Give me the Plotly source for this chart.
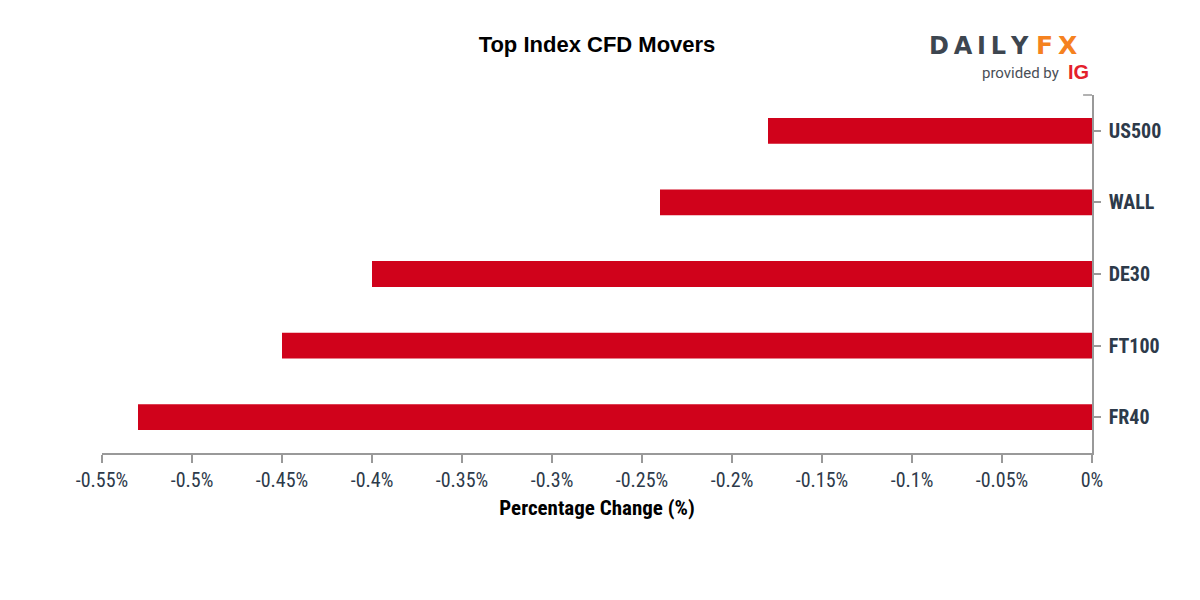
import plotly.graph_objects as go

categories = ["US500", "WALL", "DE30", "FT100", "FR40"]
values = [-0.18, -0.24, -0.40, -0.45, -0.53]
tick_vals = [-0.55, -0.5, -0.45, -0.4, -0.35, -0.3, -0.25, -0.2, -0.15, -0.1, -0.05, 0]
tick_text = ["-0.55%", "-0.5%", "-0.45%", "-0.4%", "-0.35%", "-0.3%", "-0.25%",
             "-0.2%", "-0.15%", "-0.1%", "-0.05%", "0%"]

COND = "Roboto Condensed, Liberation Sans Narrow, DejaVu Sans Condensed, Roboto, sans-serif"

fig = go.Figure(go.Bar(
    x=values, y=categories, orientation="h",
    marker=dict(color="#d0021b", line=dict(width=0)),
    width=0.36,
))

# page body has an 8px margin, so the plot area is placed 8px up/left
L, T, R, B = 94, 87, 116, 155
PH = 600 - T - B  # plot height
PW = 1200 - L - R

def py(page_y):
    # convert a target page y (in reference) to paper y of the plot area
    return (T + 8 + PH - page_y) / PH

def px(page_x):
    return (page_x - 8 - L) / PW

fig.update_layout(
    width=1200, height=600,
    paper_bgcolor="white", plot_bgcolor="white",
    margin=dict(l=L, r=R, t=T, b=B),
    showlegend=False,
    title=dict(text="<b>Top Index CFD Movers</b>", xref="paper", x=0.5, xanchor="center",
               y=1 - 36 / 600, yanchor="middle",
               font=dict(family="Liberation Sans, Arial, sans-serif", size=22, color="#000000")),
    xaxis=dict(range=[-0.55, 0], tickvals=tick_vals, ticktext=tick_text,
               showgrid=False, zeroline=False, showline=True, linecolor="#999999", linewidth=1.5,
               ticks="outside", ticklen=8, tickcolor="#999999", tickwidth=1.5,
               tickfont=dict(family=COND, size=20, color="#2d3a4a"),
               title=dict(text="<b>Percentage Change (%)</b>", standoff=10,
                          font=dict(family=COND, size=21, color="#000000")),
               fixedrange=True),
    yaxis=dict(side="right", categoryorder="array", categoryarray=categories[::-1],
               showgrid=False, zeroline=False, showline=True, linecolor="#999999", linewidth=1.5,
               ticks="outside", ticklen=7, tickcolor="#999999", tickwidth=1.5,
               tickfont=dict(family=COND, size=20, color="#2d3a4a", weight="bold"),
               ticklabelstandoff=4),
    bargap=0.64,
)

# small stub at top of right axis
fig.add_shape(type="line", xref="paper", yref="paper", x0=0.991, x1=1.0, y0=1, y1=1,
              line=dict(color="#999999", width=1.5))

# DailyFX logo
fig.add_annotation(xref="paper", yref="paper", x=px(1031), y=py(46),
                   text="\u2009".join("DAILY"), showarrow=False, xanchor="right", yanchor="middle",
                   font=dict(family="DejaVu Sans, sans-serif", size=24, color="#3d4650", weight="bold"))
fig.add_annotation(xref="paper", yref="paper", x=px(1034), y=py(46),
                   text="F\u2009X", showarrow=False, xanchor="left", yanchor="middle",
                   font=dict(family="DejaVu Sans, sans-serif", size=25, color="#f5821f", weight="bold"))
fig.add_annotation(xref="paper", yref="paper", x=px(1061), y=py(73),
                   text="provided by", showarrow=False, xanchor="right", yanchor="middle",
                   font=dict(family="Roboto, sans-serif", size=15, color="#4a4f57"))
fig.add_annotation(xref="paper", yref="paper", x=px(1066), y=py(72),
                   text="<b>IG</b>", showarrow=False, xanchor="left", yanchor="middle",
                   font=dict(family="Liberation Sans, Arial, sans-serif", size=20, color="#e4202b"))

fig.write_html("out.html")
